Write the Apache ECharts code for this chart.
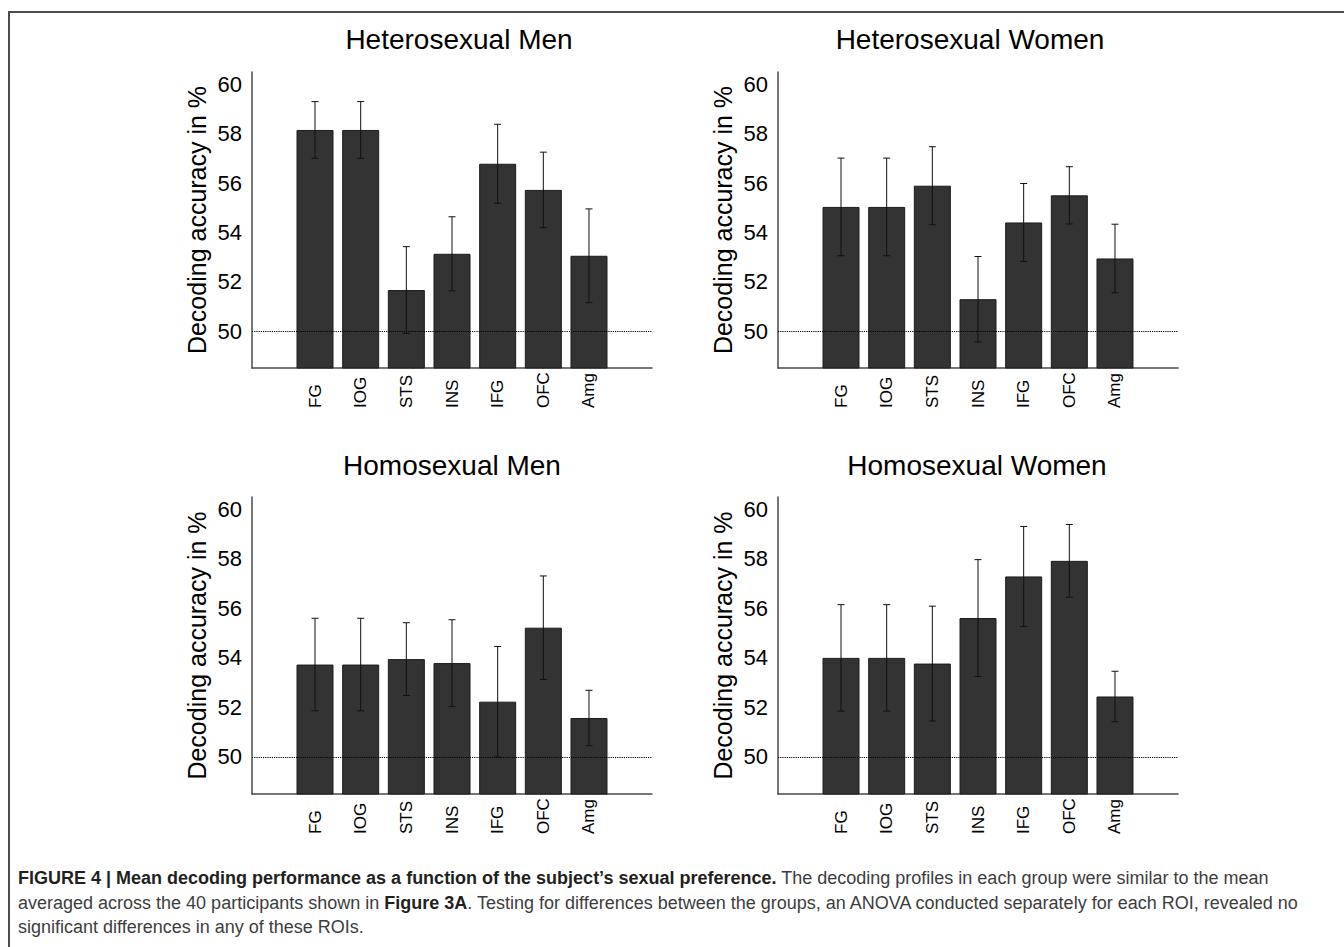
<!DOCTYPE html>
<html>
<head>
<meta charset="utf-8">
<title>Mean decoding performance by sexual preference</title>
<script src="https://cdn.jsdelivr.net/npm/echarts@6/dist/echarts.min.js"></script>
<style>
  html, body { margin: 0; padding: 0; background: #fff; }
  #wrap { position: relative; width: 1344px; height: 947px; overflow: hidden; }
  #frame { position: absolute; left: 8px; top: 11px; width: 1400px; height: 1000px;
           border-left: 2px solid #4d4d4d; border-top: 2px solid #4d4d4d; box-sizing: border-box; }
  #chart { position: absolute; left: 0; top: 0; width: 1344px; height: 947px; }
  #caption { position: absolute; left: 18px; top: 866px; font-family: 'Liberation Sans', Arial, sans-serif;
             font-size: 18px; line-height: 24.5px; color: #3d3d3d; white-space: nowrap; }
  #caption b { color: #231f20; }
</style>
</head>
<body>
<div id="wrap">
  <div id="frame"></div>
  <div id="chart"></div>
  <div id="caption">
    <b>FIGURE 4 | Mean decoding performance as a function of the subject’s sexual preference.</b> The decoding profiles in each group were similar to the mean<br>
    averaged across the 40 participants shown in <b>Figure 3A</b>. Testing for differences between the groups, an ANOVA conducted separately for each ROI, revealed no<br>
    significant differences in any of these ROIs.
  </div>
</div>
<script>
// Regions of interest along the x axis
const rois = ['FG', 'IOG', 'STS', 'INS', 'IFG', 'OFC', 'Amg'];

// Mean decoding accuracy (%) and error (±) per group
const heteroMenMean   = [58.15, 58.15, 51.66, 53.13, 56.78, 55.72, 53.05];
const heteroMenErr    = [1.15, 1.15, 1.76, 1.50, 1.60, 1.53, 1.90];
const heteroWomenMean = [55.03, 55.03, 55.89, 51.29, 54.40, 55.50, 52.94];
const heteroWomenErr  = [1.98, 1.98, 1.58, 1.73, 1.58, 1.16, 1.39];
const homoMenMean     = [53.73, 53.73, 53.95, 53.79, 52.23, 55.22, 51.57];
const homoMenErr      = [1.87, 1.87, 1.47, 1.75, 2.23, 2.09, 1.12];
const homoWomenMean   = [54.00, 54.00, 53.77, 55.61, 57.29, 57.92, 52.44];
const homoWomenErr    = [2.15, 2.15, 2.32, 2.36, 2.02, 1.47, 1.02];

// Y tick labels and chance level
const yTicks = [50, 52, 54, 56, 58, 60];
const chanceLevel = 50;

const panelTitles = ['Heterosexual Men', 'Heterosexual Women', 'Homosexual Men', 'Homosexual Women'];
const panelMeans = [heteroMenMean, heteroWomenMean, homoMenMean, homoWomenMean];
const panelErrs = [heteroMenErr, heteroWomenErr, homoMenErr, homoWomenErr];

// Panel layout (pixels)
const grids = [
  { left: 252, top: 72,  width: 400, height: 296 },
  { left: 778, top: 72,  width: 400, height: 296 },
  { left: 252, top: 497, width: 400, height: 297 },
  { left: 778, top: 497, width: 400, height: 297 }
];
const titlePos = [[459, 39], [970, 39], [452, 465], [977, 465]];

const FONT = "'Liberation Sans', Arial, Helvetica, sans-serif";
const NARROW = "'Liberation Sans Narrow', 'Liberation Sans', Arial, sans-serif";

const xAxes = [], yAxes = [], series = [], graphics = [];

grids.forEach((g, i) => {
  xAxes.push({
    type: 'value', gridIndex: i, min: -1.38, max: 7.38,
    axisLine: { show: true, onZero: false, lineStyle: { color: '#4a4a4a', width: 1.5 } },
    axisTick: { show: false },
    splitLine: { show: false },
    axisLabel: {
      customValues: rois.map((_, k) => k),
      formatter: v => rois[Math.round(v)],
      rotate: 90, align: 'left', verticalAlign: 'middle', margin: 40,
      fontFamily: NARROW, fontSize: 17, color: '#000'
    }
  });
  yAxes.push({
    type: 'value', gridIndex: i, min: 48.5, max: 60.5,
    name: 'Decoding accuracy in %', nameLocation: 'middle', nameGap: 43,
    nameTextStyle: { fontFamily: FONT, fontSize: 25, color: '#000' },
    axisLine: { show: true, onZero: false, lineStyle: { color: '#4a4a4a', width: 1.5 } },
    axisTick: { show: false },
    splitLine: { show: false },
    axisLabel: {
      customValues: yTicks, margin: 10,
      fontFamily: FONT, fontSize: 22, color: '#000'
    }
  });

  const means = panelMeans[i], errs = panelErrs[i];
  series.push({
    type: 'bar', xAxisIndex: i, yAxisIndex: i,
    barWidth: 37,
    data: means.map((v, k) => [k, v]),
    itemStyle: { color: '#333333', borderColor: '#1c1c1c', borderWidth: 1 },
    silent: true,
    markLine: {
      silent: true, symbol: 'none', label: { show: false },
      lineStyle: { color: '#000', type: [1.2, 1], width: 1 },
      data: [{ yAxis: chanceLevel }]
    },
    z: 2
  });
  series.push({
    type: 'custom', xAxisIndex: i, yAxisIndex: i,
    data: means.map((v, k) => [k, v - errs[k], v + errs[k]]),
    renderItem: (params, api) => {
      const lo = api.coord([api.value(0), api.value(1)]);
      const hi = api.coord([api.value(0), api.value(2)]);
      const cap = 3.5;
      const style = { stroke: '#111', lineWidth: 1 };
      return {
        type: 'group',
        children: [
          { type: 'line', shape: { x1: lo[0], y1: lo[1], x2: hi[0], y2: hi[1] }, style },
          { type: 'line', shape: { x1: hi[0] - cap, y1: hi[1], x2: hi[0] + cap, y2: hi[1] }, style },
          { type: 'line', shape: { x1: lo[0] - cap, y1: lo[1], x2: lo[0] + cap, y2: lo[1] }, style }
        ]
      };
    },
    silent: true,
    z: 5
  });

  graphics.push({
    type: 'text', x: titlePos[i][0], y: titlePos[i][1],
    style: { text: panelTitles[i], font: '28px ' + FONT, fill: '#000', textAlign: 'center', textVerticalAlign: 'middle' }
  });
});

const chart = echarts.init(document.getElementById('chart'), null, { renderer: 'svg' });
chart.setOption({
  animation: false,
  backgroundColor: 'transparent',
  grid: grids,
  xAxis: xAxes,
  yAxis: yAxes,
  series: series,
  graphic: graphics
});
</script>
</body>
</html>
